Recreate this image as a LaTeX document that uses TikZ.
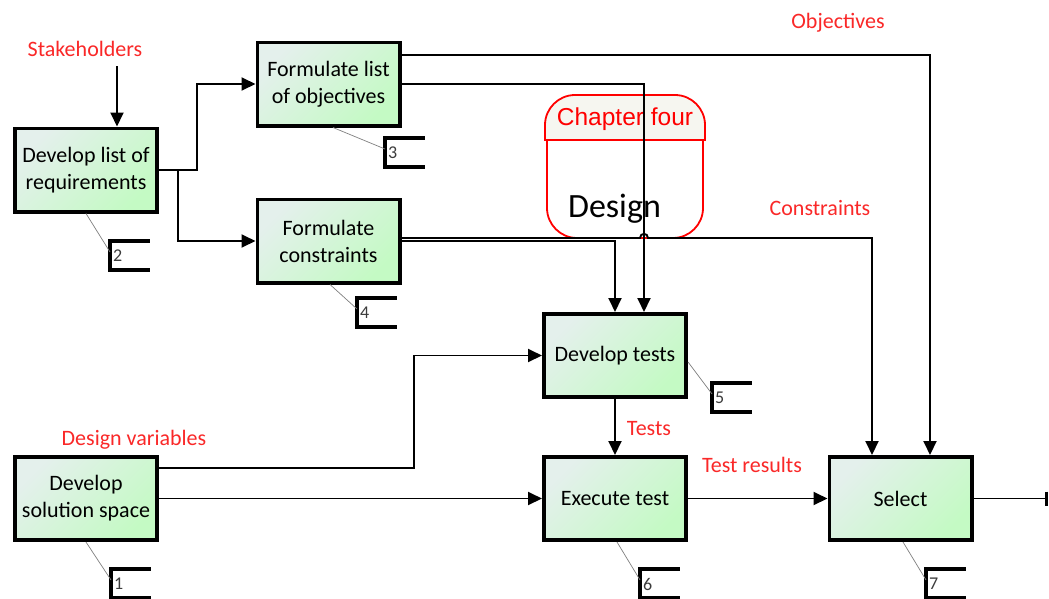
\documentclass[tikz,border=0pt]{standalone}
\usepackage{fontspec}
\setmainfont{Carlito}
\newfontfamily\headfont{Liberation Sans}
\usetikzlibrary{arrows.meta,calc}
\definecolor{lblred}{RGB}{250,40,40}
\definecolor{boxA}{RGB}{228,240,236}
\definecolor{boxM}{RGB}{208,248,210}
\definecolor{boxB}{RGB}{196,250,196}
\definecolor{capfill}{RGB}{246,246,240}
\definecolor{numgray}{RGB}{60,60,60}

% bracket-shaped step number with its anchor coordinate
\newcommand\numtag[4]{%
  \coordinate (#1) at (#2,#3+11);
  \draw[tagline] (#2+38,#3) -- (#2,#3) -- (#2,#3+29) -- (#2+38,#3+29);
  \node[tagnum] at (#2+3,#3+15) {#4};
}

\begin{document}
\begin{tikzpicture}[x=1pt,y=-1pt,
  stepbox/.style={draw=black, line width=3.6pt, minimum width=142.4pt,
    minimum height=83.4pt, align=center, inner sep=2pt,
    top color=boxA, middle color=boxM, bottom color=boxB, shading angle=45,
    font=\fontsize{22}{27}\selectfont},
  conn/.style={line width=1.9pt, -{Triangle[length=14pt,width=13pt]}},
  lbl/.style={text=lblred, anchor=base, inner sep=0pt,
    font=\fontsize{22}{26}\selectfont},
  tagline/.style={line width=3.4pt, line cap=rect, line join=miter},
  tagnum/.style={anchor=west, inner sep=0pt, text=numgray,
    font=\fontsize{18}{20}\selectfont},
  leader/.style={line width=0.7pt, draw=black!50}]

\useasboundingbox (0,0) rectangle (1049,598);
\fill[white] (0,0) rectangle (1049,598);

% "Design" chapter marker
\filldraw[draw=red, line width=1.8pt, fill=capfill]
  (545,140) -- (545,125) .. controls (545,108.5) and (558.5,95) .. (575,95)
  -- (675,95) .. controls (691.5,95) and (705,108.5) .. (705,125)
  -- (705,140) -- cycle;
\draw[red, line width=1.8pt]
  (547,140) -- (547,208) .. controls (547,224.5) and (560.5,238) .. (577,238)
  -- (673,238) .. controls (689.5,238) and (703,224.5) .. (703,208) -- (703,140);
\node[text=red, anchor=base, inner sep=0pt, font=\headfont\fontsize{24.5}{28}\selectfont]
  (chap) at (625,125) {Chapter four};
\node[anchor=base, inner sep=0pt, font=\fontsize{34}{38}\selectfont]
  (design) at (614.5,217) {Design};

% process steps
\node[stepbox] (b2) at (86,170)    {Develop list of\\requirements};
\node[stepbox] (b3) at (328.5,84)  {Formulate list\\of objectives};
\node[stepbox] (b4) at (328.5,241) {Formulate\\constraints};
\node[stepbox] (b5) at (615,355.5) {Develop tests};
\node[stepbox] (b1) at (86,498.5)  {Develop\\solution space};
\node[stepbox] (b6) at (615,498.5) {Execute test};
\node[stepbox] (b7) at (900.5,498.5) {Select};

% labels
\node[lbl] (lsh)  at (85,56)   {Stakeholders};
\node[lbl] (lobj) at (838,28)  {Objectives};
\node[lbl] (lcon) at (820,215) {Constraints};
\node[lbl] (ldv)  at (134,445) {Design variables};
\node[lbl] (lts)  at (649,435) {Tests};
\node[lbl] (ltr)  at (752,472) {Test results};

% connectors
\coordinate (sh) at (117,66);
\draw[conn] (sh) -- ([xshift=31pt]b2.north);
\draw[conn] (b2.east) -- (197,170) |- (b3.west);
\coordinate (j1) at (178,170);
\draw[conn] (j1) |- (b4.west);
\draw[conn] ([yshift=29pt]b3.east) -| ([xshift=29.5pt]b7.north);
\draw[conn] (b3.east) -| ([xshift=29pt]b5.north);
\draw[conn] (b4.east) -| (b5.north);
\draw[conn] ([yshift=3pt]b4.east) -- (640,238)
  .. controls (640,232.5) and (648,232.5) .. (648,238)
  -| ([xshift=-28.5pt]b7.north);
\draw[conn] ([yshift=30.5pt]b1.east) -- (414,468) |- (b5.west);
\draw[conn] (b1.east) -- (b6.west);
\draw[conn] (b5.south) -- (b6.north);
\draw[conn] (b6.east) -- (b7.west);
\coordinate (out) at (1047.5,498.5);
\draw[line width=1.9pt, -{Bar[width=14pt,line width=3pt]}] (b7.east) -- (out);

% step numbers
\numtag{t2}{110}{241}{2}
\numtag{t1}{111}{569}{1}
\numtag{t3}{385}{138}{3}
\numtag{t4}{357}{298}{4}
\numtag{t5}{712}{383}{5}
\numtag{t6}{640}{569}{6}
\numtag{t7}{926}{569}{7}
\draw[leader] (b2.south) -- (t2);
\draw[leader] (b1.south) -- (t1);
\draw[leader] ([xshift=4.5pt]b3.south) -- (t3);
\draw[leader] ([xshift=1.5pt]b4.south) -- (t4);
\draw[leader] ([yshift=-6.5pt]b5.east) -- (t5);
\draw[leader] ([xshift=2pt]b6.south) -- (t6);
\draw[leader] ([xshift=2.5pt]b7.south) -- (t7);
\end{tikzpicture}
\end{document}
